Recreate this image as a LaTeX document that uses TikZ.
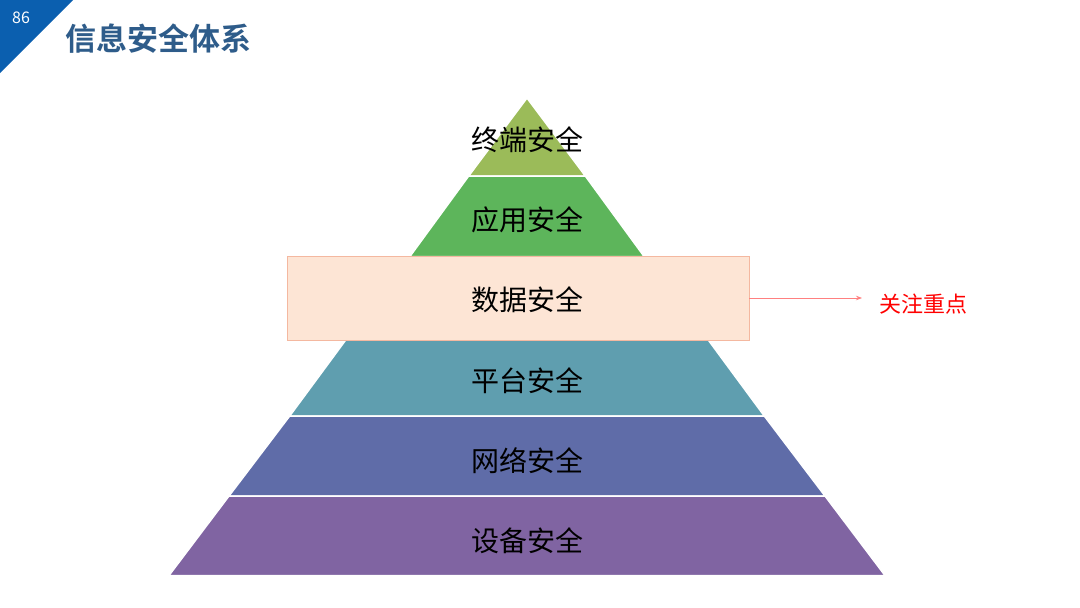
\documentclass[tikz,border=0pt]{standalone}
\usepackage{fontspec}
\setmainfont{Noto Sans CJK SC}
\newfontfamily\cjkb{Noto Sans CJK SC Bold}
\usetikzlibrary{arrows.meta}
\definecolor{cA}{HTML}{9BBB59}
\definecolor{cB}{HTML}{5DB55B}
\definecolor{cC}{HTML}{5F9EAF}
\definecolor{cD}{HTML}{5F6CA8}
\definecolor{cE}{HTML}{8064A2}
\definecolor{dataF}{HTML}{FDE5D5}
\definecolor{dataB}{HTML}{F4B8A0}
\definecolor{titleC}{HTML}{2E5C8A}
\definecolor{cornerC}{HTML}{0B5FAF}
\tikzset{lbl/.style={font=\fontsize{28}{30}\selectfont, text=black},
layer/.style={draw=white, line width=1.5pt}}
\begin{document}
\begin{tikzpicture}[x=1pt,y=-1pt]
\useasboundingbox (0,0) rectangle (1080,608);
\fill[white] (0,0) rectangle (1080,608);
\fill[cornerC] (0,0) -- (73,0) -- (0,73) -- cycle;
\node[text=white,font=\fontsize{16}{18}\selectfont] (num) at (21,18) {86};
\node[anchor=west,text=titleC,font=\cjkb\fontsize{31}{33}\selectfont] (title) at (62,39) {信息安全体系};
% pyramid: half width = 0.7484*(y-98)
\fill[cA,layer] (527,98) -- (585.3,176) -- (468.7,176) -- cycle;
\fill[cB,layer] (468.7,176) -- (585.3,176) -- (644.1,256.5) -- (409.9,256.5) -- cycle;
\fill[cC,layer] (346.1,339.5) -- (707.9,339.5) -- (764.3,416) -- (289.7,416) -- cycle;
\fill[cD,layer] (289.7,416) -- (764.3,416) -- (825.0,496) -- (229.0,496) -- cycle;
\fill[cE,layer] (229.0,496) -- (825.0,496) -- (885,575.5) -- (169,575.5) -- cycle;
\node[draw=dataB,fill=dataF,minimum width=462pt,minimum height=84pt,inner sep=0pt] (data) at (518,298) {};
\node[lbl] (t1) at (527,140) {终端安全};
\node[lbl] (t2) at (527,220) {应用安全};
\node[lbl] (t3) at (527,300) {数据安全};
\node[lbl] (t4) at (527,381) {平台安全};
\node[lbl] (t5) at (527,461) {网络安全};
\node[lbl] (t6) at (527,541) {设备安全};
\node[text=red,font=\fontsize{22}{24}\selectfont,anchor=west] (focus) at (876,304) {关注重点};
\coordinate (ae) at (862,298);
\draw[color={rgb,255:red,255;green,128;blue,128},line width=0.8pt,-{Stealth[length=6pt]}] (data.east) -- (ae);
\end{tikzpicture}
\end{document}
